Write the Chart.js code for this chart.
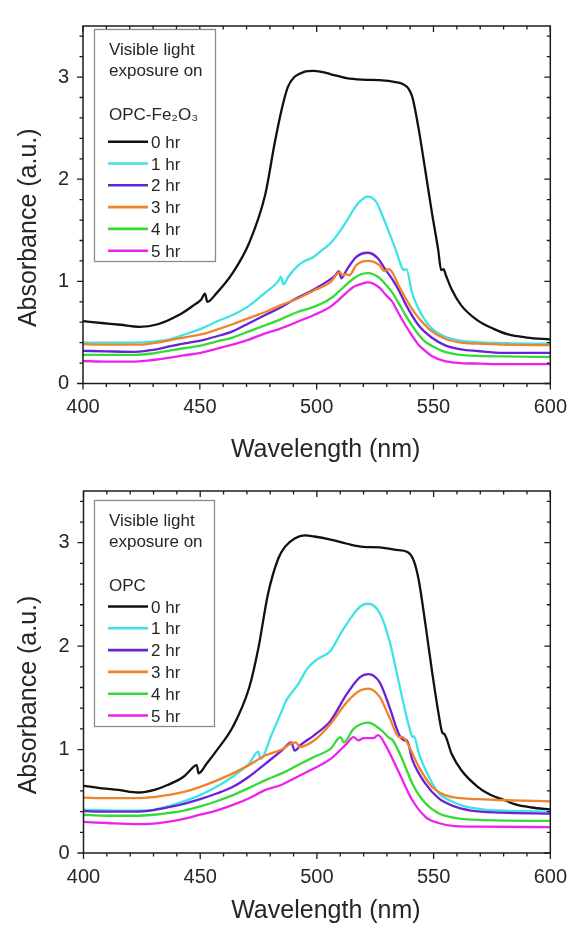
<!DOCTYPE html>
<html>
<head>
<meta charset="utf-8">
<script src="https://cdn.jsdelivr.net/npm/chart.js@4.4.1/dist/chart.umd.min.js"></script>
<style>
  html, body { margin: 0; padding: 0; background: #ffffff; }
  body { width: 579px; height: 925px; position: relative; overflow: hidden; }
  .panel { position: absolute; left: 0; width: 579px; }
  #p1 { top: 0; height: 465px; }
  #p2 { top: 465px; height: 460px; }
</style>
</head>
<body>
<div class="panel" id="p1"><canvas id="c1" width="579" height="465"></canvas></div>
<div class="panel" id="p2"><canvas id="c2" width="579" height="460"></canvas></div>
<script>
// ---------------- DATA ----------------
const hourLabels = ['0 hr', '1 hr', '2 hr', '3 hr', '4 hr', '5 hr'];
const xTickValues = [400, 450, 500, 550, 600];
const yTickValues = [0, 1, 2, 3];
const xTitle = 'Wavelength (nm)';
const yTitle = 'Absorbance (a.u.)';
const legendHeader = ['Visible light', 'exposure on'];
const sampleNameFe = 'OPC-Fe\u2082O\u2083';
const sampleNameOpc = 'OPC';

// Panel 1: OPC-Fe2O3
const feWl0  = [400,409,416,424,432,441,447,450.5,452.2,453.2,457,464,471,478,482,485,487.6,490.4,494.6,498.8,502,505.8,512.8,519.8,526.8,533.8,537,539.5,541,543.6,546.4,549.2,552,553.3,554.3,555.3,557.6,561.7,568.7,575.7,582,590,600];
const feAbs0 = [0.61,0.59,0.575,0.555,0.58,0.67,0.76,0.82,0.88,0.80,0.88,1.08,1.37,1.85,2.35,2.68,2.90,3.00,3.05,3.06,3.05,3.03,2.99,2.975,2.97,2.95,2.93,2.88,2.80,2.50,2.10,1.69,1.31,1.11,1.12,1.06,0.93,0.77,0.62,0.535,0.48,0.45,0.43];
const feWl1  = [400,410,420,430,436.5,443.5,450.4,457,464,471,478,483.5,484.7,485.8,488,491.8,495,498.8,502,505.8,509,512.8,516,518.4,521.9,525.4,529.6,533.8,536.6,537.6,538.4,540.8,545,549.2,554.8,561.7,568.7,580,590,600];
const feAbs1 = [0.40,0.40,0.40,0.41,0.43,0.48,0.535,0.605,0.67,0.76,0.89,1.00,1.045,0.97,1.05,1.15,1.20,1.24,1.30,1.37,1.46,1.59,1.71,1.78,1.83,1.78,1.56,1.31,1.13,1.11,1.12,0.89,0.67,0.54,0.46,0.42,0.405,0.395,0.39,0.39];
const feWl2  = [400,410,422.6,430,436.5,443,450.4,457,464,471,478,485,491.8,498.8,505.8,508,509.5,510.6,512.8,517,521.9,526,529.6,532.4,535,538,543.6,549.2,554.8,561.7,568.7,580,600];
const feAbs2 = [0.32,0.315,0.31,0.33,0.36,0.39,0.42,0.46,0.51,0.59,0.67,0.75,0.84,0.92,1.02,1.06,1.10,1.03,1.11,1.24,1.28,1.23,1.11,1.02,0.92,0.78,0.57,0.45,0.376,0.334,0.318,0.30,0.30];
const feWl3  = [400,410,420,425,430,436.5,443,450.4,457,464,471,478,485,491.8,498.8,505.8,510,511,512.5,514,517,521.9,526.8,529,530.5,532,535.2,540.8,547.8,554.8,561.7,568.7,580,600];
const feAbs3 = [0.385,0.38,0.38,0.38,0.395,0.42,0.45,0.48,0.525,0.58,0.64,0.70,0.77,0.83,0.91,0.99,1.09,1.06,1.07,1.06,1.16,1.20,1.16,1.10,1.12,1.10,0.955,0.73,0.54,0.44,0.40,0.39,0.38,0.375];
const feWl4  = [400,410,422.6,430,436.5,443,450.4,457,464,471,478,484.8,491.8,498.8,505.8,509,512.8,516,518.4,521.9,526.8,529.5,532.4,535,538,540.8,543.6,546.4,549.2,554.8,561.7,568.7,580,600];
const feAbs4 = [0.28,0.28,0.28,0.295,0.32,0.345,0.37,0.41,0.45,0.51,0.57,0.63,0.70,0.75,0.83,0.89,0.97,1.03,1.065,1.08,1.035,0.97,0.89,0.79,0.67,0.57,0.48,0.41,0.37,0.31,0.28,0.27,0.265,0.26];
const feWl5  = [400,410,422.6,430,436.5,443,450.4,457,464,471,478,484.8,491.8,498.8,505.8,509,512.8,516,518.4,521.9,526.8,529.5,532.4,535,538,540.8,543.6,546.4,549.2,554.8,561.7,570,580,600];
const feAbs5 = [0.22,0.215,0.215,0.23,0.25,0.275,0.30,0.34,0.38,0.43,0.49,0.54,0.605,0.67,0.75,0.81,0.89,0.95,0.97,0.99,0.94,0.87,0.80,0.69,0.57,0.47,0.38,0.32,0.27,0.22,0.20,0.195,0.19,0.19];

// Panel 2: OPC
const opcWl0  = [400,408,415,423.5,430.4,436,443,447.5,448.5,449.3,452.8,457,464,471,475,479,483.5,486.3,490.5,494.7,498.9,505.9,512.9,519.9,526.9,533.9,538.8,541.6,543.7,546.5,549.3,552.1,553.8,554.6,557.7,561.9,568.9,574.5,579.4,585,592,600];
const opcAbs0 = [0.65,0.625,0.61,0.585,0.61,0.657,0.74,0.84,0.85,0.77,0.865,0.99,1.22,1.60,1.99,2.50,2.85,2.96,3.04,3.07,3.06,3.03,2.99,2.96,2.955,2.93,2.91,2.82,2.63,2.21,1.76,1.35,1.16,1.15,0.96,0.80,0.64,0.56,0.52,0.47,0.44,0.42];
const opcWl1  = [400,415,429,436,443,450,457,464,471,474.9,475.8,480.7,484.5,487,491.9,496.1,500.3,505.9,510.1,515.7,519,522,526.9,531.1,535.3,539.5,541,541.6,543.7,547.9,552.1,557.7,563.3,571.7,580,600];
const opcAbs1 = [0.42,0.41,0.415,0.45,0.50,0.56,0.64,0.74,0.865,0.98,0.91,1.15,1.35,1.48,1.63,1.79,1.875,1.955,2.12,2.31,2.39,2.41,2.32,2.05,1.63,1.22,1.12,1.13,0.96,0.74,0.58,0.50,0.45,0.42,0.41,0.40];
const opcWl2  = [400,410,422,430,436,443,450,457,464,471,478,484.9,489,490.5,493.3,498.9,505.9,512.9,518.5,522,526.9,531.1,535.3,537.5,538.5,540.9,546.5,552.1,557.7,566,579,600];
const opcAbs2 = [0.405,0.40,0.40,0.415,0.44,0.475,0.52,0.575,0.64,0.74,0.865,0.99,1.07,0.99,1.05,1.14,1.28,1.54,1.70,1.73,1.65,1.41,1.14,1.09,1.09,0.90,0.67,0.53,0.46,0.41,0.39,0.38];
const opcWl3  = [400,410,422,430,436,443,450,457,464,471,478,484.9,489,491,492.6,498.9,505.9,512.9,518.5,522,526.9,531.1,535.3,536.7,538.1,543.7,549.3,554.9,561.9,568.9,580,600];
const opcAbs3 = [0.535,0.53,0.53,0.54,0.56,0.59,0.64,0.70,0.77,0.85,0.945,1.00,1.06,1.07,1.025,1.09,1.25,1.46,1.57,1.59,1.51,1.31,1.12,1.12,1.09,0.83,0.64,0.56,0.53,0.52,0.51,0.50];
const opcWl4  = [400,410,422,430,436,443,450,457,464,471,478,484.9,491.9,498.9,505.9,510.1,511.5,515.7,522,526.9,529.7,530.5,532.5,536.7,540.9,546.5,552.1,559.1,568.9,600];
const opcAbs4 = [0.37,0.36,0.36,0.37,0.385,0.41,0.45,0.50,0.56,0.63,0.705,0.77,0.85,0.93,1.01,1.12,1.07,1.20,1.26,1.20,1.14,1.12,1.09,0.90,0.67,0.48,0.385,0.34,0.32,0.31];
const opcWl5  = [400,410,422,430,436,443,450,457,464,471,478,484.9,491.9,498.9,505.9,512.9,515.7,517.8,520,524.1,526.2,529.7,535.3,540.9,546.5,552.1,559.1,570,600];
const opcAbs5 = [0.30,0.29,0.28,0.285,0.30,0.33,0.37,0.41,0.465,0.53,0.61,0.66,0.74,0.82,0.91,1.06,1.12,1.09,1.11,1.11,1.14,1.03,0.77,0.51,0.35,0.29,0.26,0.255,0.25];

// ---------------- STYLE ----------------
const seriesColors = ['#111111', '#3fe3e6', '#6a22d6', '#f0822a', '#35da35', '#ee22ee'];
const FONT = '"Liberation Sans", Arial, Helvetica, sans-serif';
const TEXT = '#262626';

function makeDatasets(wls, abss) {
  return wls.map((wl, i) => ({
    label: hourLabels[i],
    data: wl.map((w, j) => ({ x: w, y: abss[i][j] })),
    borderColor: seriesColors[i],
    backgroundColor: seriesColors[i],
    borderWidth: 2.3,
    pointRadius: 0,
    fill: false,
    cubicInterpolationMode: 'monotone',
    order: 5 - i
  }));
}

// frame + mirrored ticks drawn through the scales
const framePlugin = {
  id: 'frame',
  afterDatasetsDraw(chart) {
    const { ctx, chartArea: a, scales: { x, y } } = chart;
    ctx.save();
    ctx.strokeStyle = '#1c1c1c';
    ctx.lineWidth = 1.5;
    ctx.strokeRect(a.left, a.top, a.right - a.left, a.bottom - a.top);
    ctx.lineWidth = 1.3;
    ctx.beginPath();
    for (let v = x.min; v <= x.max + 1e-6; v += 10) {
      const px = x.getPixelForValue(v);
      const L = xTickValues.includes(v) ? 6 : 3.5;
      ctx.moveTo(px, a.bottom); ctx.lineTo(px, a.bottom + L);
      ctx.moveTo(px, a.top); ctx.lineTo(px, a.top + L);
    }
    for (let i = 0; i <= 17; i++) {
      const v = i * 0.2;
      const py = y.getPixelForValue(v);
      const L = (i % 5 === 0) ? 6 : 3.5;
      ctx.moveTo(a.left, py); ctx.lineTo(a.left - L, py);
      ctx.moveTo(a.right, py); ctx.lineTo(a.right - L, py);
    }
    ctx.stroke();
    ctx.restore();
  }
};

function makeDecorPlugin(cfg) {
  return {
    id: 'decor',
    afterDraw(chart) {
      const { ctx, chartArea: a } = chart;
      ctx.save();
      ctx.fillStyle = TEXT;
      // axis titles
      ctx.font = '25px ' + FONT;
      ctx.textAlign = 'center';
      ctx.textBaseline = 'alphabetic';
      ctx.fillText(xTitle, (a.left + a.right) / 2 + 9, a.bottom + cfg.xTitleGap);
      ctx.save();
      ctx.translate(36, (a.top + a.bottom) / 2 + 23);
      ctx.rotate(-Math.PI / 2);
      ctx.fillText(yTitle, 0, 0);
      ctx.restore();
      // legend box
      const b = cfg.box;
      ctx.fillStyle = '#ffffff';
      ctx.fillRect(b.x, b.y, b.w, b.h);
      ctx.strokeStyle = '#8a8a8a';
      ctx.lineWidth = 1.3;
      ctx.strokeRect(b.x + 0.5, b.y + 0.5, b.w, b.h);
      ctx.fillStyle = TEXT;
      ctx.font = '17px ' + FONT;
      ctx.textAlign = 'left';
      ctx.fillText(legendHeader[0], b.x + 15, b.y + 26);
      ctx.fillText(legendHeader[1], b.x + 15, b.y + 46.5);
      ctx.fillText(cfg.sample, b.x + 15, b.y + 91);
      chart.data.datasets.forEach((ds, i) => {
        const base = b.y + cfg.firstItem + i * 21.8;
        ctx.strokeStyle = ds.borderColor;
        ctx.lineWidth = 2.6;
        ctx.beginPath();
        ctx.moveTo(b.x + 14, base - 6);
        ctx.lineTo(b.x + 54, base - 6);
        ctx.stroke();
        ctx.fillStyle = TEXT;
        ctx.fillText(ds.label, b.x + 57, base);
      });
      ctx.restore();
    }
  };
}

function makeChart(canvasId, datasets, layoutCfg, decorCfg) {
  return new Chart(document.getElementById(canvasId), {
    type: 'line',
    data: { datasets },
    options: {
      responsive: false,
      animation: false,
      devicePixelRatio: 1,
      layout: { padding: { left: 0, right: layoutCfg.right, top: layoutCfg.top, bottom: 0 } },
      plugins: { legend: { display: false }, tooltip: { enabled: false }, title: { display: false } },
      scales: {
        x: {
          type: 'linear', min: 400, max: 600,
          afterFit: (s) => { s.height = layoutCfg.xHeight; },
          afterBuildTicks: (s) => { s.ticks = xTickValues.map(v => ({ value: v })); },
          ticks: { font: { size: 20, family: FONT }, color: TEXT, padding: 12, maxRotation: 0 },
          grid: { display: false, drawTicks: false },
          border: { display: false }
        },
        y: {
          type: 'linear', min: 0, max: 3.5,
          afterFit: (s) => { s.width = layoutCfg.yWidth; },
          afterBuildTicks: (s) => { s.ticks = yTickValues.map(v => ({ value: v })); },
          ticks: { font: { size: 20, family: FONT }, color: TEXT, padding: 14 },
          grid: { display: false, drawTicks: false },
          border: { display: false }
        }
      }
    },
    plugins: [framePlugin, makeDecorPlugin(decorCfg)]
  });
}

makeChart('c1',
  makeDatasets([feWl0, feWl1, feWl2, feWl3, feWl4, feWl5], [feAbs0, feAbs1, feAbs2, feAbs3, feAbs4, feAbs5]),
  { top: 17, right: 19, yWidth: 83, xHeight: 465 - 17 - 366.5 },
  { xTitleGap: 73.5, box: { x: 94, y: 29, w: 121, h: 232 }, sample: sampleNameFe, firstItem: 118.7 }
);

makeChart('c2',
  makeDatasets([opcWl0, opcWl1, opcWl2, opcWl3, opcWl4, opcWl5], [opcAbs0, opcAbs1, opcAbs2, opcAbs3, opcAbs4, opcAbs5]),
  { top: 24, right: 18.5, yWidth: 83.5, xHeight: 460 - 24 - 364 },
  { xTitleGap: 64.5, box: { x: 94, y: 35, w: 120, h: 226 }, sample: sampleNameOpc, firstItem: 112.5 }
);
</script>
</body>
</html>
